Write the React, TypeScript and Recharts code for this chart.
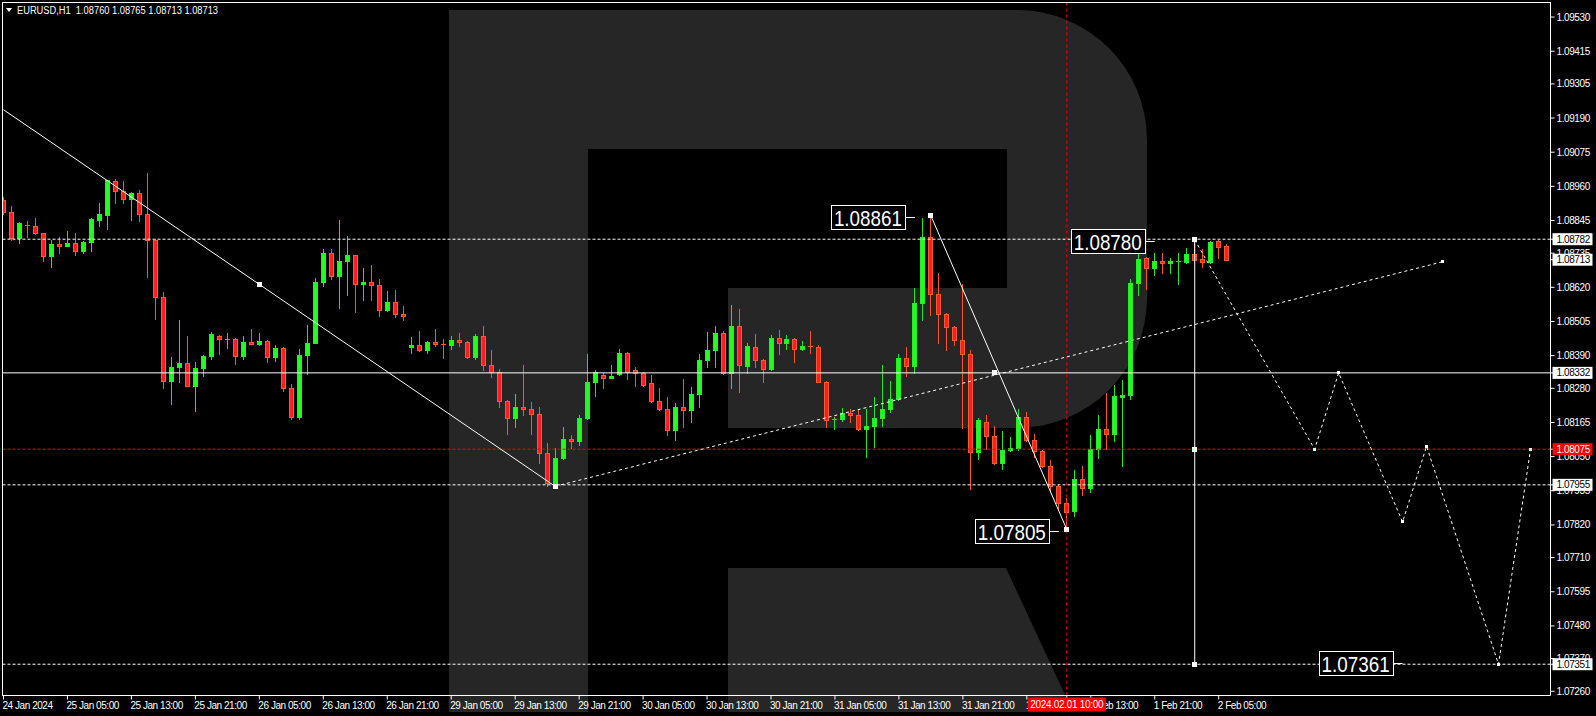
import React from "react";
import {
  ComposedChart,
  Bar,
  Line,
  XAxis,
  YAxis,
  ReferenceLine,
  ReferenceDot,
} from "recharts";

// EURUSD H1 candles [open, high, low, close], first bar = 24 Jan 21:00
const OHLC: number[][] = [
  [1.08914, 1.08925, 1.08867, 1.08875],
  [1.08873, 1.08894, 1.0878, 1.08787],
  [1.08787, 1.0884, 1.08769, 1.08837],
  [1.0883, 1.08844, 1.08791, 1.08825],
  [1.08827, 1.08854, 1.088, 1.08802],
  [1.08802, 1.08804, 1.0871, 1.08727],
  [1.08727, 1.0878, 1.0869, 1.08766],
  [1.08766, 1.0879, 1.08737, 1.0876],
  [1.0876, 1.0881, 1.08758, 1.0877],
  [1.0877, 1.08803, 1.08729, 1.08744],
  [1.08742, 1.08776, 1.08737, 1.08773],
  [1.08771, 1.08854, 1.08743, 1.0885],
  [1.08847, 1.08904, 1.08828, 1.08867],
  [1.08864, 1.08982, 1.08817, 1.0898],
  [1.08978, 1.08985, 1.08905, 1.08946],
  [1.08946, 1.08978, 1.08905, 1.08919],
  [1.08919, 1.08941, 1.08847, 1.08939],
  [1.08938, 1.08948, 1.08845, 1.08868],
  [1.08868, 1.09005, 1.08656, 1.08781],
  [1.08781, 1.08782, 1.08514, 1.08589],
  [1.08589, 1.08604, 1.08282, 1.08306],
  [1.08306, 1.08385, 1.08228, 1.08352],
  [1.08352, 1.0851, 1.08302, 1.08365],
  [1.08365, 1.08456, 1.08289, 1.08289],
  [1.08289, 1.08369, 1.08204, 1.08348],
  [1.08348, 1.08392, 1.08322, 1.08389],
  [1.08389, 1.08469, 1.0838, 1.08464],
  [1.08455, 1.08458, 1.08396, 1.08445],
  [1.08443, 1.08466, 1.08417, 1.08447],
  [1.08447, 1.08448, 1.08361, 1.08388],
  [1.08388, 1.08456, 1.0838, 1.08436],
  [1.08436, 1.0848, 1.08428, 1.08429],
  [1.08429, 1.08466, 1.08426, 1.08438],
  [1.08438, 1.08442, 1.0837, 1.08384],
  [1.08384, 1.08425, 1.08373, 1.08416],
  [1.08416, 1.08419, 1.08272, 1.08282],
  [1.08282, 1.08294, 1.08176, 1.08184],
  [1.08184, 1.08412, 1.08176, 1.08391],
  [1.08391, 1.08493, 1.08329, 1.08433],
  [1.08433, 1.08652, 1.08431, 1.08637],
  [1.08637, 1.08748, 1.08626, 1.08736],
  [1.08736, 1.08748, 1.08647, 1.08659],
  [1.08659, 1.08847, 1.08552, 1.08709],
  [1.08709, 1.08793, 1.08595, 1.08729],
  [1.08729, 1.0873, 1.08538, 1.0863],
  [1.0863, 1.08685, 1.08578, 1.08638],
  [1.08638, 1.08694, 1.08578, 1.08627],
  [1.08627, 1.08648, 1.08525, 1.08545],
  [1.08545, 1.08608, 1.0854, 1.08571],
  [1.08571, 1.08611, 1.08521, 1.08531],
  [1.0853, 1.08557, 1.0851, 1.08523],
  [1.0842, 1.08454, 1.08398, 1.08425],
  [1.08425, 1.08473, 1.08406, 1.08409],
  [1.08409, 1.0844, 1.084, 1.08436],
  [1.08436, 1.0848, 1.08423, 1.08428],
  [1.08428, 1.08447, 1.08383, 1.08425],
  [1.08425, 1.08456, 1.08413, 1.08443],
  [1.08443, 1.08466, 1.08423, 1.08435],
  [1.08435, 1.0844, 1.08382, 1.08385],
  [1.08385, 1.08463, 1.0838, 1.08456],
  [1.08456, 1.0849, 1.08341, 1.08359],
  [1.08359, 1.08408, 1.08318, 1.08334],
  [1.08334, 1.08345, 1.08218, 1.08238],
  [1.08238, 1.08241, 1.08127, 1.08179],
  [1.08179, 1.0826, 1.0815, 1.08216],
  [1.08216, 1.08358, 1.08191, 1.08209],
  [1.08209, 1.08233, 1.08126, 1.08192],
  [1.08192, 1.08217, 1.08027, 1.08061],
  [1.08061, 1.08097, 1.07951, 1.0796],
  [1.0796, 1.08078, 1.0795, 1.08047],
  [1.08047, 1.08149, 1.08041, 1.08108],
  [1.08108, 1.08123, 1.0808, 1.08102],
  [1.08102, 1.0819, 1.0809, 1.0818],
  [1.0818, 1.08396, 1.08176, 1.08301],
  [1.08301, 1.08341, 1.08255, 1.08335],
  [1.08326, 1.0833, 1.0828, 1.08316],
  [1.08316, 1.08358, 1.08314, 1.08322],
  [1.08328, 1.08412, 1.08326, 1.08399],
  [1.08399, 1.08401, 1.08312, 1.08336],
  [1.08342, 1.08351, 1.08289, 1.0833],
  [1.0833, 1.08335, 1.08288, 1.08292],
  [1.08297, 1.08325, 1.08233, 1.08238],
  [1.08238, 1.08281, 1.08208, 1.08211],
  [1.08211, 1.0825, 1.08124, 1.0814],
  [1.0814, 1.0823, 1.08106, 1.08217],
  [1.08217, 1.08311, 1.0815, 1.08208],
  [1.08208, 1.08284, 1.08167, 1.08261],
  [1.08261, 1.08396, 1.08218, 1.08375],
  [1.08375, 1.08471, 1.08351, 1.08409],
  [1.08409, 1.0849, 1.08353, 1.08466],
  [1.08466, 1.08474, 1.08328, 1.08331],
  [1.08331, 1.08562, 1.08282, 1.08491],
  [1.08491, 1.08547, 1.08268, 1.08359],
  [1.08355, 1.08433, 1.08332, 1.08422],
  [1.08419, 1.08464, 1.08351, 1.08376],
  [1.08376, 1.08379, 1.08302, 1.08345],
  [1.08345, 1.0846, 1.08342, 1.08449],
  [1.08449, 1.08476, 1.08395, 1.08434],
  [1.08434, 1.0846, 1.08412, 1.08446],
  [1.08446, 1.08448, 1.08369, 1.08412],
  [1.08412, 1.08439, 1.08409, 1.08421],
  [1.08421, 1.08473, 1.084, 1.08418],
  [1.08418, 1.08426, 1.083, 1.08302],
  [1.08302, 1.08304, 1.0815, 1.08173],
  [1.08173, 1.08184, 1.08144, 1.08177],
  [1.08177, 1.08213, 1.08171, 1.08196],
  [1.08196, 1.08209, 1.08165, 1.08191],
  [1.08191, 1.08207, 1.08138, 1.08144],
  [1.08144, 1.08209, 1.08049, 1.08153],
  [1.08153, 1.08251, 1.08081, 1.08179],
  [1.08179, 1.08358, 1.08153, 1.08212],
  [1.08212, 1.08304, 1.08201, 1.08243],
  [1.08243, 1.08396, 1.08241, 1.08382],
  [1.08382, 1.08418, 1.08322, 1.08356],
  [1.08356, 1.08618, 1.08332, 1.08567],
  [1.08567, 1.08854, 1.08511, 1.08789],
  [1.08789, 1.08861, 1.08528, 1.08599],
  [1.08599, 1.08668, 1.08434, 1.08531],
  [1.08531, 1.08533, 1.08409, 1.08485],
  [1.08485, 1.0849, 1.08427, 1.08444],
  [1.08444, 1.08631, 1.08148, 1.08394],
  [1.08394, 1.08408, 1.0794, 1.08066],
  [1.08066, 1.0818, 1.08043, 1.08173],
  [1.08165, 1.0819, 1.08076, 1.0812],
  [1.0812, 1.08153, 1.08026, 1.08029],
  [1.08029, 1.08136, 1.08007, 1.08072],
  [1.08073, 1.08117, 1.08068, 1.08079],
  [1.08079, 1.08209, 1.08072, 1.08182],
  [1.08182, 1.08199, 1.08101, 1.08106],
  [1.08106, 1.08126, 1.08049, 1.08069],
  [1.08069, 1.08072, 1.08015, 1.08017],
  [1.08017, 1.08038, 1.07937, 1.07951],
  [1.07951, 1.07957, 1.0787, 1.07893],
  [1.07893, 1.0791, 1.07805, 1.07862],
  [1.07866, 1.08004, 1.0785, 1.07974],
  [1.07974, 1.08018, 1.0792, 1.07944],
  [1.07944, 1.08122, 1.0793, 1.08075],
  [1.08075, 1.0819, 1.08046, 1.08143],
  [1.08143, 1.08265, 1.08075, 1.08127],
  [1.08127, 1.08292, 1.08103, 1.08255],
  [1.08251, 1.08308, 1.08018, 1.08257],
  [1.08257, 1.08648, 1.08245, 1.08636],
  [1.08636, 1.08735, 1.08594, 1.08716],
  [1.08718, 1.08723, 1.08616, 1.08686],
  [1.08686, 1.08737, 1.08663, 1.08709],
  [1.08708, 1.08737, 1.08668, 1.08703],
  [1.08703, 1.0872, 1.08668, 1.08708],
  [1.08705, 1.08737, 1.0863, 1.08709],
  [1.08706, 1.08753, 1.08702, 1.08732],
  [1.08732, 1.08782, 1.08712, 1.08712],
  [1.08716, 1.08748, 1.08689, 1.08704],
  [1.08704, 1.08777, 1.08701, 1.08773],
  [1.08776, 1.0878, 1.0872, 1.08757],
  [1.0876, 1.08765, 1.08713, 1.08713],
];

// empty bars to the right, used by the forecast
const TOTAL_BARS = 194;

const TIME_TICKS = [0, 8, 16, 24, 32, 40, 48, 56, 64, 72, 80, 88, 96, 104, 112, 120, 128, 136, 144, 152];
const TIME_LABELS = [
  "24 Jan 2024", "25 Jan 05:00", "25 Jan 13:00", "25 Jan 21:00", "26 Jan 05:00",
  "26 Jan 13:00", "26 Jan 21:00", "29 Jan 05:00", "29 Jan 13:00", "29 Jan 21:00",
  "30 Jan 05:00", "30 Jan 13:00", "30 Jan 21:00", "31 Jan 05:00", "31 Jan 13:00",
  "31 Jan 21:00", "1 Feb 05:00", "1 Feb 13:00", "1 Feb 21:00", "2 Feb 05:00",
];

const PRICE_TICKS = [
  1.0953, 1.09415, 1.09305, 1.0919, 1.09075, 1.0896, 1.08845, 1.08735, 1.0862, 1.08505,
  1.0839, 1.0828, 1.08165, 1.0805, 1.07935, 1.0782, 1.0771, 1.07595, 1.0748, 1.0737, 1.0726,
];

// boxed prices on the right scale
const AXIS_MARKS = [
  { p: 1.08782, red: false },
  { p: 1.08713, red: false },
  { p: 1.08332, red: false },
  { p: 1.07955, red: false },
  { p: 1.07351, red: false },
  { p: 1.08075, red: true },
];

const DASHED_LEVELS = [1.08782, 1.07955, 1.07351];
const SOLID_LEVEL = 1.08332;
const RED_LEVEL = 1.08075;
const CROSSHAIR_BAR = 133;
const CROSSHAIR_LABEL = "2024.02.01 10:00";

// [bar, price]
const DOWN_TREND = [[0, 1.09218], [69, 1.0795]];
const UP_TREND = [[69, 1.0795], [180, 1.08706]];
const SWING = [[116, 1.08861], [133, 1.07805]];
const FORECAST = [
  [149, 1.0878], [164, 1.08075], [167, 1.08332], [175, 1.0783],
  [178, 1.08085], [187, 1.07351], [191, 1.08075],
];
const TARGET_BAR = 149;
const TARGET_FROM = 1.0878;
const TARGET_TO = 1.07351;

const BIG_MARKS = [
  [32, 1.0863], [69, 1.0795], [116, 1.08861], [133, 1.07805], [124, 1.08332],
  [149, 1.0878], [149, 1.08075], [149, 1.07351],
];
const SMALL_MARKS = [[164, 1.08075], [167, 1.08332], [175, 1.0783], [178, 1.08085], [187, 1.07351], [191, 1.08075], [180, 1.08706]];

const PRICE_TAGS = [
  { i: 114, p: 1.08861, text: "1.08861" },
  { i: 144, p: 1.0878, text: "1.08780" },
  { i: 132, p: 1.07805, text: "1.07805" },
  { i: 175, p: 1.07361, text: "1.07361" },
];

const FONT = "Liberation Sans, Arial, sans-serif";
const GRAY = "#262626";

type Row = { [k: string]: number | undefined };

const rows: Row[] = [];
for (let i = 0; i < TOTAL_BARS; i++) {
  const k = OHLC[i];
  rows.push(k ? { i, o: k[0], h: k[1], l: k[2], c: k[3] } : { i });
}
const put = (pts: number[][], key: string) =>
  pts.forEach(([i, v]) => {
    rows[i][key] = v;
  });
put(DOWN_TREND, "down");
put(UP_TREND, "up");
put(SWING, "swing");
put(FORECAST, "fc");

const Candle = (props: any) => {
  const { x, y, width, height, payload } = props;
  if (!payload || payload.o == null || !isFinite(y) || !isFinite(height)) return <g />;
  const { o, h, l, c } = payload;
  const top = Math.min(y, y + height);
  const span = Math.abs(height);
  const py = (v: number) => (h === l ? top : top + ((h - v) / (h - l)) * span);
  const cx = Math.floor(x + width / 2);
  const up = c >= o;
  const wick = up ? "#1ee81e" : "#ff5522";
  const b1 = Math.round(py(Math.max(o, c)));
  const b2 = Math.round(py(Math.min(o, c)));
  return (
    <g>
      <line x1={cx + 0.5} x2={cx + 0.5} y1={Math.round(py(h))} y2={Math.round(py(l)) + 1} stroke={wick} />
      {b2 - b1 < 2 ? (
        <line x1={cx - 2} x2={cx + 3} y1={b1 + 0.5} y2={b1 + 0.5} stroke={wick} />
      ) : (
        <rect
          x={cx - 1.5}
          y={b1 + 0.5}
          width={4}
          height={b2 - b1}
          fill={up ? "#1eff1e" : "#ff1e1e"}
          stroke={up ? "#22f022" : "#ff5a28"}
        />
      )}
    </g>
  );
};

const XTick = (props: any) => {
  const { x, y, payload } = props;
  if (payload.value === CROSSHAIR_BAR) {
    // crosshair time flag, drawn last so it covers the labels below it
    return (
      <g>
        <rect x={x - 39} y={y - 4} width={78} height={14} fill="#ff0000" />
        <text x={x} y={y + 6.5} fill="#fff" fontSize={10} fontFamily={FONT} textAnchor="middle" letterSpacing={-0.3}>
          {CROSSHAIR_LABEL}
        </text>
      </g>
    );
  }
  const k = TIME_TICKS.indexOf(payload.value);
  return (
    <text x={x - 1} y={y + 7} fill="#fff" fontSize={10} fontFamily={FONT} letterSpacing={-0.45} textAnchor="start">
      {k >= 0 ? TIME_LABELS[k] : ""}
    </text>
  );
};

const YTick = (props: any) => {
  const { x, y, payload } = props;
  const v = payload.value as number;
  const mark = AXIS_MARKS.find((m) => m.p === v);
  if (mark) {
    return (
      <g>
        <rect x={x - 4} y={y - 6} width={40} height={12} fill={mark.red ? "#ff0000" : "#ffffff"} />
        <text x={x} y={y + 3.5} fill={mark.red ? "#fff" : "#000"} fontSize={10} fontFamily={FONT} letterSpacing={-0.4}>
          {v.toFixed(5)}
        </text>
      </g>
    );
  }
  return (
    <text x={x} y={y + 3.5} fill="#fff" fontSize={10} fontFamily={FONT} letterSpacing={-0.4}>
      {v.toFixed(5)}
    </text>
  );
};

const square = (size: number) => (p: any) =>
  <rect x={Math.round(p.cx - size / 2)} y={Math.round(p.cy - size / 2)} width={size} height={size} fill="#fff" />;

const tag = (text: string) => (p: any) => {
  const { cx, cy } = p;
  const ly = Math.round(cy + 1.5) + 0.5;
  return (
    <g>
      <line x1={cx - 10} x2={cx} y1={ly} y2={ly} stroke="#fff" />
      <rect x={Math.round(cx - 84) + 0.5} y={Math.round(cy - 10.5) + 0.5} width={74} height={24} fill="#000" stroke="#fff" />
      <text
        x={cx - 47}
        y={cy + 10.5}
        fill="#fff"
        fontSize={22}
        fontFamily={FONT}
        textAnchor="middle"
        textLength={68}
        lengthAdjust="spacingAndGlyphs"
      >
        {text}
      </text>
    </g>
  );
};

export default function App() {
  return (
    <div style={{ position: "absolute", left: 0, top: 0, width: 1596, height: 716, background: "#000", overflow: "hidden" }}>
      <svg width={1596} height={716} style={{ position: "absolute", left: 0, top: 0 }}>
        <path
          d="M449,10 H1017 A130,130 0 0 1 1147,140 V298 A130,130 0 0 1 1017,428 H728 V288 H1007 V149 H588 V712 H449 Z"
          fill={GRAY}
        />
        <path d="M728,568 H1006 L1073,712 H728 Z" fill={GRAY} />
      </svg>
      <div style={{ position: "absolute", left: 0, top: 0 }}>
        <ComposedChart
          width={1596}
          height={716}
          data={rows}
          margin={{ top: 2, right: 0, bottom: 0, left: -0.5 }}
          barCategoryGap={0}
        >
          <XAxis
            dataKey="i"
            type="category"
            ticks={[...TIME_TICKS, CROSSHAIR_BAR]}
            interval={0}
            height={20.5}
            tickSize={4}
            axisLine={{ stroke: "#fff" }}
            tickLine={{ stroke: "#fff" }}
            tick={<XTick />}
          />
          <YAxis
            orientation="right"
            type="number"
            width={45.5}
            domain={[1.072457, 1.095807]}
            allowDataOverflow
            ticks={[...PRICE_TICKS, ...AXIS_MARKS.map((m) => m.p)]}
            interval={0}
            tickSize={4}
            axisLine={{ stroke: "#fff" }}
            tickLine={{ stroke: "#fff" }}
            tick={<YTick />}
          />
          <Bar
            dataKey={(d: any) => (d.o != null ? [d.l, d.h] : null)}
            shape={Candle}
            barSize={6}
            isAnimationActive={false}
          />
          {DASHED_LEVELS.map((p) => (
            <ReferenceLine key={p} y={p} stroke="#fff" strokeDasharray="3 2" />
          ))}
          <ReferenceLine y={SOLID_LEVEL} stroke="#fff" />
          <ReferenceLine y={RED_LEVEL} stroke="#ff0000" strokeDasharray="3 2" />
          <ReferenceLine x={CROSSHAIR_BAR} stroke="#ff0000" strokeDasharray="3 3" />
          <ReferenceLine
            segment={[
              { x: TARGET_BAR, y: TARGET_FROM },
              { x: TARGET_BAR, y: TARGET_TO },
            ]}
            stroke="#fff"
          />
          <Line dataKey="down" stroke="#fff" strokeWidth={1} dot={false} activeDot={false} connectNulls isAnimationActive={false} />
          <Line dataKey="up" stroke="#fff" strokeWidth={1} strokeDasharray="3 3" dot={false} activeDot={false} connectNulls isAnimationActive={false} />
          <Line dataKey="swing" stroke="#fff" strokeWidth={1} dot={false} activeDot={false} connectNulls isAnimationActive={false} />
          <Line dataKey="fc" stroke="#fff" strokeWidth={1} strokeDasharray="3 3" dot={false} activeDot={false} connectNulls isAnimationActive={false} />
          {BIG_MARKS.map(([i, p], k) => (
            <ReferenceDot key={"b" + k} x={i} y={p} r={3} shape={square(5)} />
          ))}
          {SMALL_MARKS.map(([i, p], k) => (
            <ReferenceDot key={"s" + k} x={i} y={p} r={2} shape={square(3)} />
          ))}
          {PRICE_TAGS.map((t) => (
            <ReferenceDot key={t.text} x={t.i} y={t.p} r={1} shape={tag(t.text)} />
          ))}
        </ComposedChart>
      </div>
      <svg width={1596} height={716} style={{ position: "absolute", left: 0, top: 0, pointerEvents: "none" }}>
        <rect x={0} y={0} width={2} height={716} fill="#000" />
        <rect x={0} y={0} width={1596} height={2} fill="#000" />
        <line x1={2} x2={1551} y1={2.5} y2={2.5} stroke="#fff" />
        <line x1={2.5} x2={2.5} y1={2} y2={696} stroke="#fff" />
        <path d="M6,8 L12,8 L9,12 Z" fill="#fff" />
        <text x={17} y={14} fill="#fff" fontSize={10} fontFamily={FONT} textLength={201} lengthAdjust="spacingAndGlyphs" style={{ whiteSpace: "pre" }}>
          {"EURUSD,H1  1.08760 1.08765 1.08713 1.08713"}
        </text>
      </svg>
    </div>
  );
}
